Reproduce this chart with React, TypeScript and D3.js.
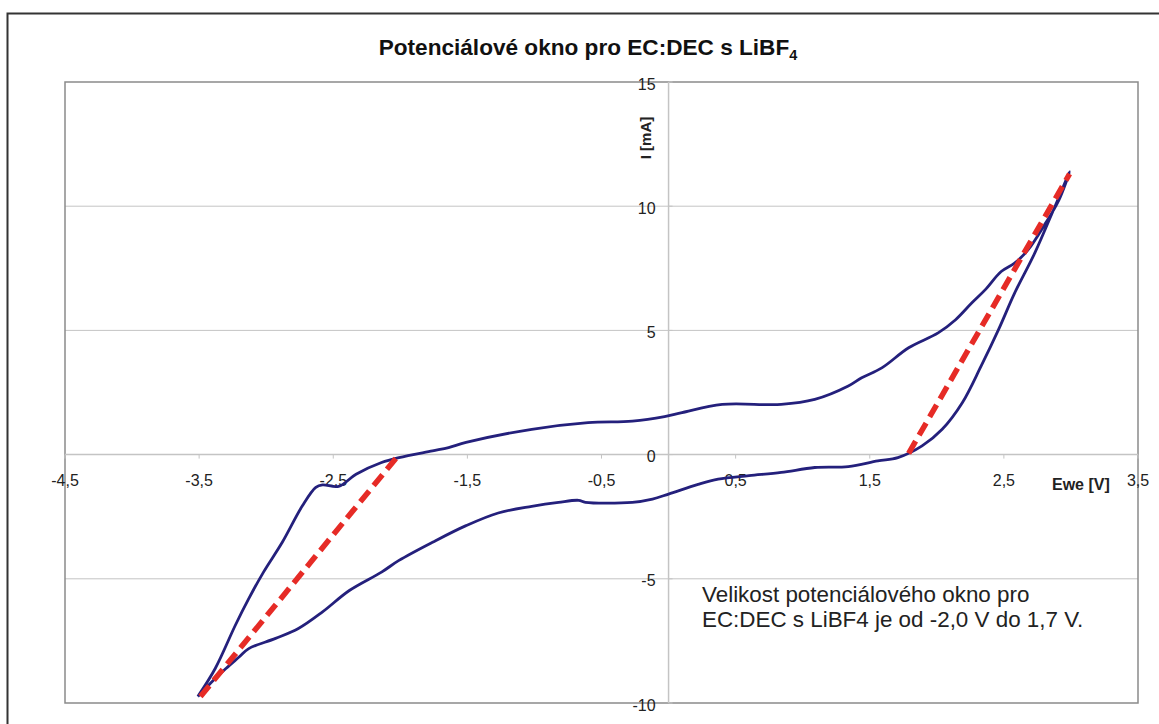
import React from "react";
import * as d3 from "d3";

// forward scan (from -3.5 V up to 3 V)
const forwardPotential = [
  -3.51, -3.38, -3.23, -3.13, -3.02, -2.88, -2.73, -2.63, -2.58, -2.46, -2.33, -2.14, -2.01,
  -1.76, -1.64, -1.51, -1.02, -0.6, -0.27, -0.03, 0.1, 0.4, 0.84, 1.09, 1.34, 1.44, 1.59,
  1.79, 2.01, 2.14, 2.26, 2.36, 2.48, 2.58, 2.68, 2.81, 2.91, 2.99,
];
const forwardCurrent = [
  -9.74, -8.61, -6.87, -5.8, -4.73, -3.53, -2.06, -1.32, -1.22, -1.28, -0.79, -0.32, -0.12,
  0.15, 0.28, 0.49, 1.02, 1.29, 1.35, 1.53, 1.69, 2.02, 2.02, 2.22, 2.76, 3.09, 3.49, 4.3,
  4.9, 5.43, 6.1, 6.63, 7.37, 7.71, 8.24, 9.31, 10.24, 11.38,
];

// reverse scan (from 3 V back to -3.5 V)
const reversePotential = [
  2.88, 2.73, 2.58, 2.46, 2.33, 2.19, 2.04, 1.89, 1.71, 1.56, 1.34, 1.09, 0.84, 0.6, 0.37,
  0.22, 0.0, -0.12, -0.27, -0.62, -0.67, -0.82, -1.02, -1.27, -1.51, -1.76, -2.01, -2.14,
  -2.38, -2.58, -2.76, -2.93, -3.13, -3.2, -3.3, -3.38, -3.51,
];
const reverseCurrent = [
  9.98, 8.11, 6.5, 5.03, 3.56, 2.09, 1.02, 0.35, -0.12, -0.25, -0.48, -0.52, -0.72, -0.85,
  -0.99, -1.2, -1.59, -1.79, -1.92, -1.92, -1.84, -1.92, -2.08, -2.35, -2.86, -3.53, -4.26,
  -4.73, -5.47, -6.33, -7.0, -7.4, -7.81, -8.14, -8.61, -9.01, -9.74,
];

// red dashed tangents marking the window edges
const cathodicLimit = [
  [-3.49, -9.74],
  [-2.01, 0],
];
const anodicLimit = [
  [1.79, 0.05],
  [2.99, 11.3],
];

const xTicks = [-4.5, -3.5, -2.5, -1.5, -0.5, 0.5, 1.5, 2.5, 3.5];
const yTicks = [-10, -5, 0, 5, 10, 15];
const noteLines = [
  "Velikost potenciálového okno pro",
  "EC:DEC s LiBF4 je od -2,0 V do 1,7 V.",
];

const W = 1159;
const H = 724;
const plot = { left: 65, right: 1138, top: 82, bottom: 703 };
const font = "'Liberation Sans', Arial, sans-serif";

const App: React.FC = () => {
  const x = d3.scaleLinear().domain([-4.5, 3.5]).range([plot.left, plot.right]);
  const y = d3.scaleLinear().domain([-10, 15]).range([plot.bottom, plot.top]);

  const cv: [number, number][] = [
    ...forwardPotential.map((v, i) => [v, forwardCurrent[i]] as [number, number]),
    ...reversePotential.map((v, i) => [v, reverseCurrent[i]] as [number, number]),
  ];

  const line = d3
    .line<number[]>()
    .x((d) => x(d[0]))
    .y((d) => y(d[1]))
    .curve(d3.curveCatmullRom.alpha(0.5));

  const straight = d3
    .line<number[]>()
    .x((d) => x(d[0]))
    .y((d) => y(d[1]));

  const x0 = x(0);
  const y0 = y(0);
  const fmt = (v: number) => String(v).replace(".", ",");

  return (
    <div style={{ position: "fixed", left: 0, top: 0 }}>
      <svg width={W} height={H} style={{ display: "block", background: "#fff" }}>
        {/* outer frame */}
        <rect x={7.5} y={13.5} width={1300} height={900} fill="none" stroke="#333" strokeWidth={2} />

        {/* title */}
        <text
          x={588}
          y={55}
          textAnchor="middle"
          fontFamily={font}
          fontWeight="bold"
          fontSize={22.6}
          fill="#111"
        >
          Potenciálové okno pro EC:DEC s LiBF
          <tspan fontSize={14.5} dy={5}>
            4
          </tspan>
        </text>

        {/* gridlines */}
        {yTicks
          .filter((t) => t !== 0 && t !== 15 && t !== -10)
          .map((t) => (
            <line
              key={`g${t}`}
              x1={plot.left}
              x2={plot.right}
              y1={y(t)}
              y2={y(t)}
              stroke="#c4c4c4"
              strokeWidth={1}
            />
          ))}

        {/* plot frame */}
        <rect
          x={plot.left}
          y={plot.top}
          width={plot.right - plot.left}
          height={plot.bottom - plot.top}
          fill="none"
          stroke="#8a8a8a"
          strokeWidth={1.5}
        />

        {/* axes through origin */}
        <line x1={plot.left} x2={plot.right} y1={y0} y2={y0} stroke="#c4c4c4" strokeWidth={1.5} />
        <line x1={x0} x2={x0} y1={plot.top} y2={plot.bottom} stroke="#c4c4c4" strokeWidth={1.5} />

        {xTicks.map((t) => (
          <g key={`x${t}`}>
            <line x1={x(t)} x2={x(t)} y1={y0} y2={y0 + 4} stroke="#c4c4c4" strokeWidth={1} />
            <text
              x={x(t)}
              y={y0 + 31}
              textAnchor="middle"
              fontFamily={font}
              fontSize={16}
              fill="#222"
            >
              {fmt(t)}
            </text>
          </g>
        ))}

        {yTicks.map((t) => (
          <g key={`y${t}`}>
            <line x1={x0} x2={x0 + 4} y1={y(t)} y2={y(t)} stroke="#c4c4c4" strokeWidth={1} />
            <text
              x={x0 - 13}
              y={y(t) + 7.5}
              textAnchor="end"
              fontFamily={font}
              fontSize={16}
              fill="#222"
            >
              {fmt(t)}
            </text>
          </g>
        ))}

        {/* axis titles */}
        <text x={1052} y={490} fontFamily={font} fontWeight="bold" fontSize={16} fill="#222">
          Ewe [V]
        </text>
        <text
          transform={`translate(651, 138) rotate(-90)`}
          textAnchor="middle"
          fontFamily={font}
          fontWeight="bold"
          fontSize={15}
          fill="#222"
        >
          I [mA]
        </text>

        {/* CV curve */}
        <path d={line(cv) || ""} fill="none" stroke="#24207c" strokeWidth={2.8} strokeLinejoin="round" />

        {/* window limits */}
        {[cathodicLimit, anodicLimit].map((seg, i) => (
          <path
            key={`r${i}`}
            d={straight(seg) || ""}
            fill="none"
            stroke="#e62b26"
            strokeWidth={5.5}
            strokeDasharray="14 7"
          />
        ))}

        {/* annotation */}
        <text fontFamily={font} fontSize={22.4} fill="#222">
          {noteLines.map((l, i) => (
            <tspan key={i} x={702} y={602 + i * 24.5}>
              {l}
            </tspan>
          ))}
        </text>
      </svg>
    </div>
  );
};

export default App;
